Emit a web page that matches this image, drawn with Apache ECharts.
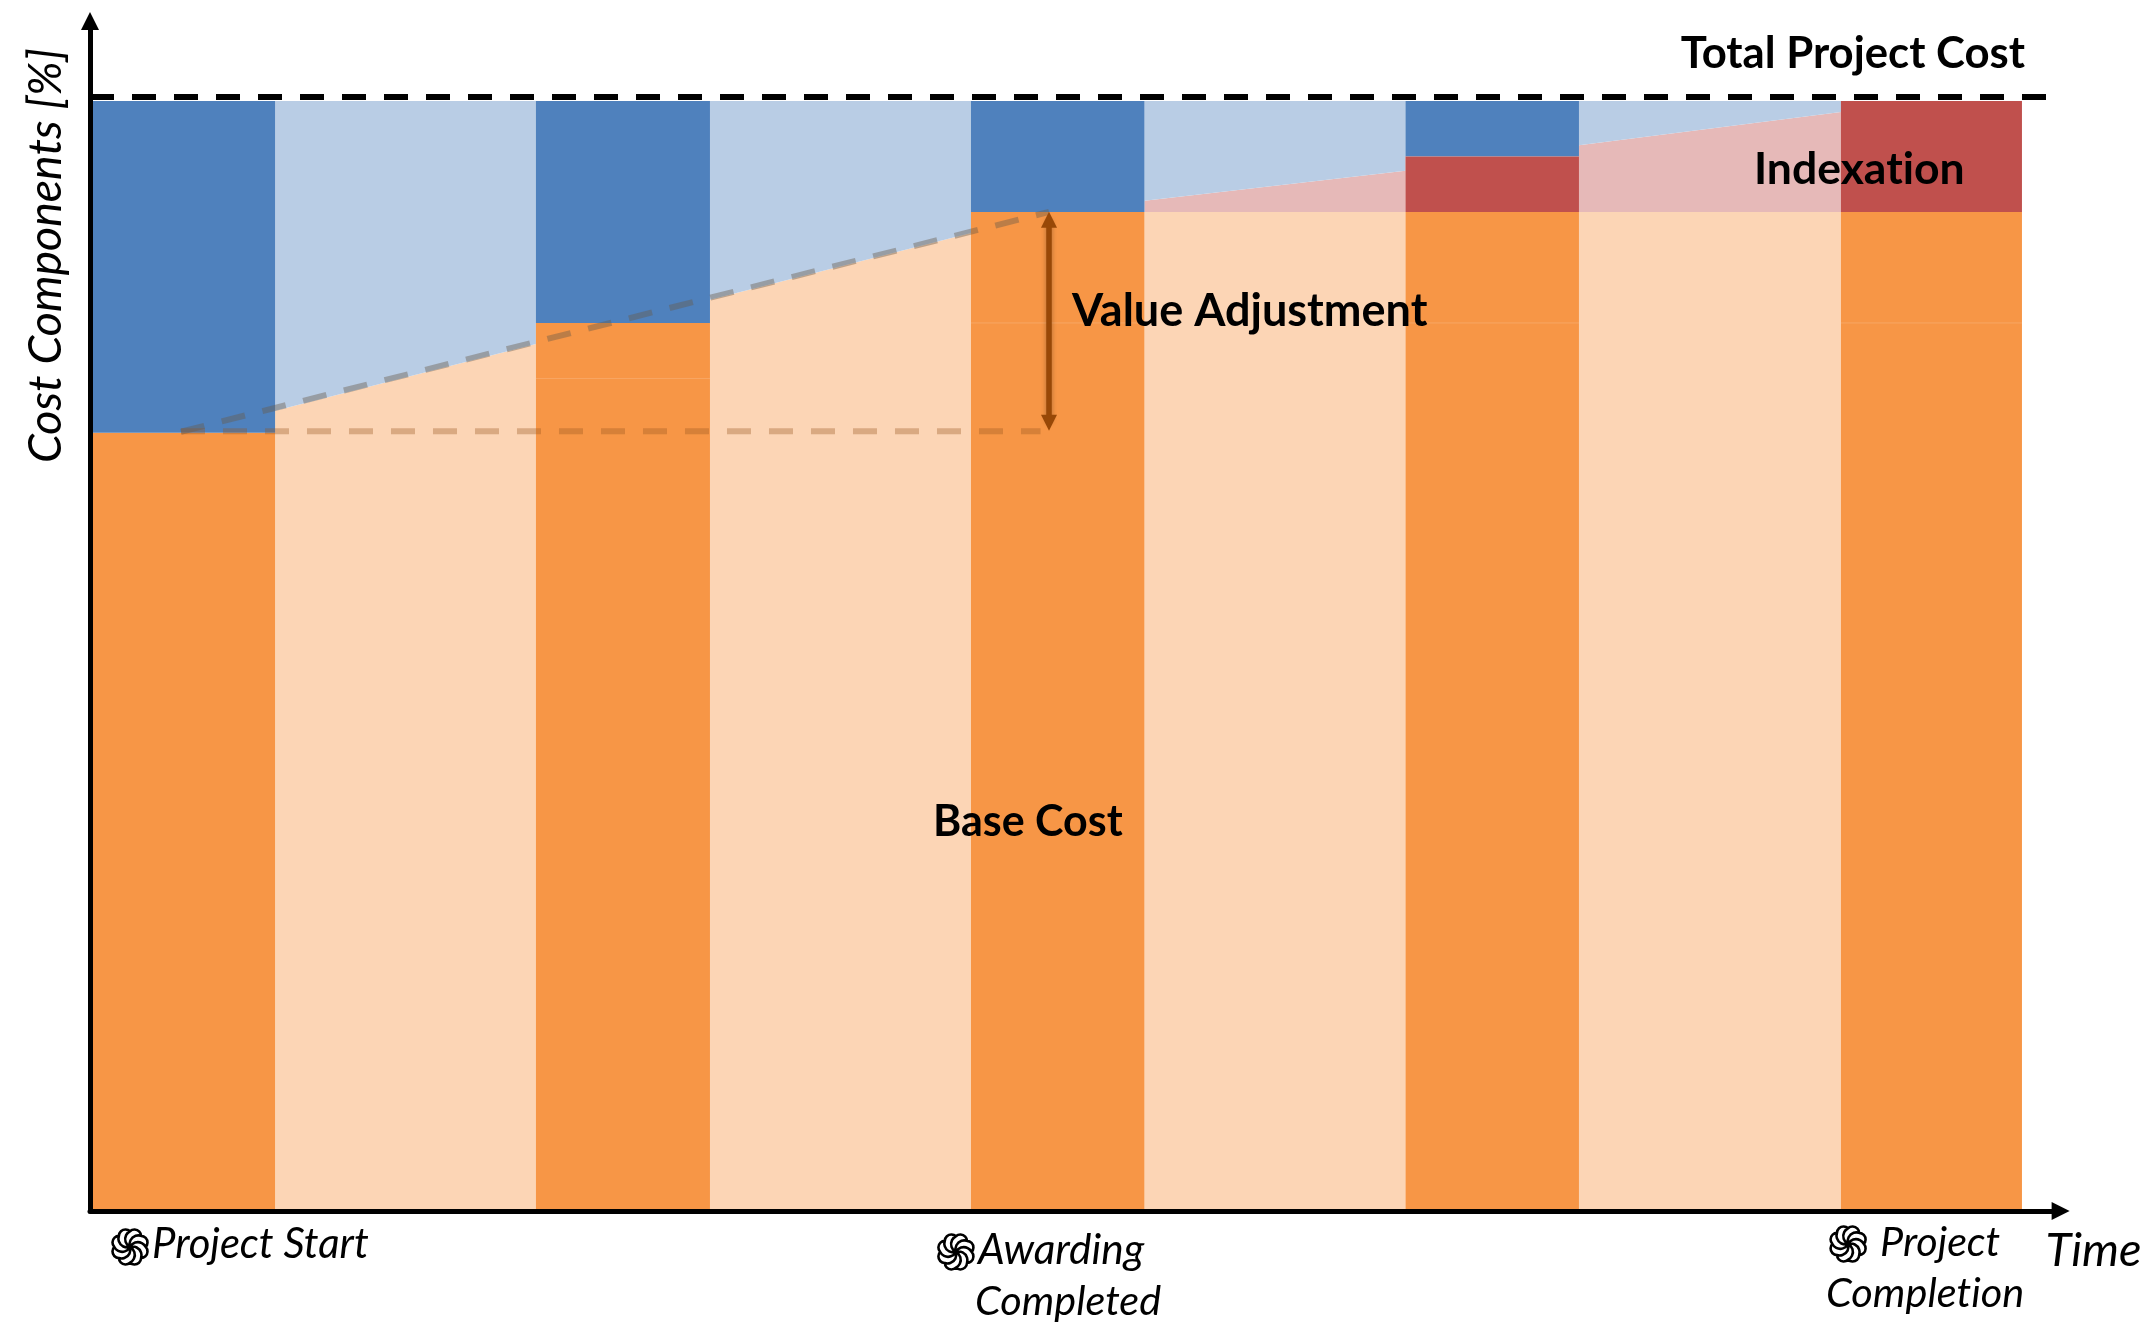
<!DOCTYPE html>
<html><head><meta charset="utf-8">
<style>html,body{margin:0;padding:0;background:#fff}#c{width:2150px;height:1322px}</style>
<script src="https://cdn.jsdelivr.net/npm/echarts@6/dist/echarts.min.js"></script>
</head><body><div id="c"></div>
<script>
// Time runs 0-100 between project start and completion; cost in percent.
const milestoneStart = [0, 23.08, 45.6, 68.09, 90.63];
const milestoneEnd = [9.58, 32.09, 54.58, 77.07, 100];
const baseCost = [70.1, 80, 90, 90, 90];
const indexation = [0, 0, 0, 5, 10];
const seamValue = [null, 75, 80, 80, 80];
const totalCost = 100;
const gapBaseLeft = [72.1, 82.1, 90, 90];
const gapBaseRight = [78.1, 88.1, 90, 90];
const gapIndexLeft = [72.1, 82.1, 91, 96];
const gapIndexRight = [78.1, 88.1, 93.7, 99];
const totalLineX = [0, 101.3];
const totalLineY = [100.35, 100.35];
const trendX = [4.71, 49.64];
const trendY = [70.2, 90];
const baselineX = [4.71, 49.2];
const baselineY = [70.25, 70.25];
const arrowX = 49.64;
const arrowY = [71, 89.3];
const eventX = [2.07, 44.82, 91.0];
const eventY = [-3.24, -3.69, -2.97];

const C = {blue:'#4F81BD', orange:'#F79646', red:'#C0504D', lblue:'#B9CDE5', lorange:'#FCD5B5', pink:'#E6B9B8'};
const FONT = 'Lato';

// avoid the Lato "ti" ligature, which the reference type does not have
const _fill = CanvasRenderingContext2D.prototype.fillText;
CanvasRenderingContext2D.prototype.fillText = function () { this.textRendering = 'optimizeSpeed'; return _fill.apply(this, arguments); };

function rect(api, x0, x1, y0, y1, fill) {
  const a = api.coord([x0, y1]), b = api.coord([x1, y0]);
  return {type:'rect', shape:{x:a[0], y:a[1], width:b[0]-a[0], height:b[1]-a[1]}, style:{fill}};
}
function poly(api, pts, fill) {
  return {type:'polygon', shape:{points:pts.map(p => api.coord(p))}, style:{fill}};
}
const barData = milestoneStart.map((s,i) => [s, milestoneEnd[i], baseCost[i], indexation[i], seamValue[i]]);
const gapData = gapBaseLeft.map((v,i) => [milestoneEnd[i], milestoneStart[i+1], v, gapBaseRight[i], gapIndexLeft[i], gapIndexRight[i]]);
const eventData = eventX.map((x,i) => [x, eventY[i]]);

function swirl(R, n) {
  let d = '';
  for (let i = 0; i < n; i++) {
    const t = i / n * 2 * Math.PI, t2 = (i + 1) / n * 2 * Math.PI;
    const px = R * Math.cos(t), py = R * Math.sin(t);
    const qx = R * Math.cos(t2), qy = R * Math.sin(t2);
    d += `M0 0A${R*0.56} ${R*0.56} 0 0 1 ${px.toFixed(2)} ${py.toFixed(2)}`;
    d += `A${R*0.42} ${R*0.42} 0 0 1 ${qx.toFixed(2)} ${qy.toFixed(2)}`;
  }
  return d;
}
function label(text, x, y, size, bold, italic, align) {
  return {type:'text', x, y, z:20, style:{text, fill:'#000', textAlign:align||'left', textVerticalAlign:'bottom',
    font:(italic?'italic ':'')+(bold?'bold ':'')+size+'px '+FONT}};
}

const option = {
  animation:false,
  backgroundColor:'#fff',
  grid:{left:90, top:21, width:1970.6, height:1190},
  xAxis:{type:'value', min:0, max:102, z:5,
    name:'Time', nameLocation:'end', nameGap:-15,
    nameTextStyle:{fontFamily:FONT, fontStyle:'italic', fontSize:47, color:'#000', align:'left', verticalAlign:'top', padding:[16,0,0,0]},
    axisLine:{show:true, onZero:false, symbol:['none','triangle'], symbolSize:[18,18], lineStyle:{color:'#000', width:5}},
    axisTick:{show:false}, axisLabel:{show:false}, splitLine:{show:false}},
  yAxis:{type:'value', min:0, max:107.2, z:5,
    name:'Cost Components [%]', nameLocation:'end', nameRotate:90, nameGap:-27,
    nameTextStyle:{fontFamily:FONT, fontStyle:'italic', fontSize:46.5, color:'#000', align:'right', verticalAlign:'bottom', padding:[0,0,21,0]},
    axisLine:{show:true, onZero:false, symbol:['none','triangle'], symbolSize:[18,18], lineStyle:{color:'#000', width:5}},
    axisTick:{show:false}, axisLabel:{show:false}, splitLine:{show:false}},
  series:[
    {type:'custom', name:'Transitions', coordinateSystem:'cartesian2d', z:2, data:gapData, silent:true,
      encode:{x:[0,1], y:[2,3]},
      renderItem:(p, api) => {
        const x0=api.value(0), x1=api.value(1), bl=api.value(2), br=api.value(3), il=api.value(4), ir=api.value(5);
        return {type:'group', children:[
          poly(api, [[x0,0],[x1,0],[x1,br],[x0,bl]], C.lorange),
          poly(api, [[x0,bl],[x1,br],[x1,ir],[x0,il]], C.pink),
          poly(api, [[x0,il],[x1,ir],[x1,totalCost],[x0,totalCost]], C.lblue)
        ]};
      }},
    {type:'custom', name:'Milestones', coordinateSystem:'cartesian2d', z:3, data:barData, silent:true,
      encode:{x:[0,1], y:2},
      renderItem:(p, api) => {
        const x0=api.value(0), x1=api.value(1), b=api.value(2), ix=api.value(3), seam=api.value(4);
        const kids=[
          rect(api,x0,x1,0,b,C.orange),
          rect(api,x0,x1,b+ix,totalCost,C.blue)
        ];
        if (ix>0) kids.push(rect(api,x0,x1,b,b+ix,C.red));
        if (seam===seam && seam!=null) {
          const a=api.coord([x0,seam]), c=api.coord([x1,seam]);
          kids.push({type:'line', shape:{x1:a[0],y1:a[1],x2:c[0],y2:c[1]}, style:{stroke:'rgba(255,255,255,0.16)', lineWidth:1}});
        }
        return {type:'group', children:kids};
      }},
    {type:'custom', name:'Events', coordinateSystem:'cartesian2d', z:6, data:eventData, silent:true, clip:false,
      encode:{x:0, y:1},
      renderItem:(p, api) => {
        const c=api.coord([api.value(0), api.value(1)]);
        return {type:'path', shape:{pathData:swirl(18,8), x:c[0]-17.5, y:c[1]-17.5, width:35, height:35, layout:'center'},
          style:{fill:'none', stroke:'#000', lineWidth:2.6}};
      }},
    {type:'line', name:'Total Project Cost', z:4, symbol:'none', silent:true, data:totalLineX.map((x,i)=>[x,totalLineY[i]]),
      lineStyle:{color:'#000', width:6, type:[24,18], dashOffset:0}},
    {type:'line', name:'Trend', z:4, symbol:'none', silent:true, data:trendX.map((x,i)=>[x,trendY[i]]),
      lineStyle:{color:'rgba(105,90,75,0.42)', width:6, type:[24,18]}},
    {type:'line', name:'Baseline', z:4, symbol:'none', silent:true, data:baselineX.map((x,i)=>[x,baselineY[i]]),
      lineStyle:{color:'rgba(150,85,30,0.34)', width:6, type:[24,18]},
      markLine:{silent:true, animation:false, symbol:['triangle','triangle'], symbolSize:16, label:{show:false},
        lineStyle:{color:'#984807', width:5.5, type:'solid', shadowBlur:5, shadowColor:'rgba(0,0,0,0.3)'},
        data:[[{coord:[arrowX,arrowY[0]]},{coord:[arrowX,arrowY[1]]}]]}}
  ],
  graphic:[
    label('Total Project Cost', 2025, 76, 43.7, true, false, 'right'),
    label('Indexation', 1754, 192, 44.5, true),
    label('Value Adjustment', 1072, 334, 45, true),
    label('Base Cost', 933, 844, 43, true),
    label('Project Start', 152, 1266, 41.8, false, true),
    label('Awarding', 978, 1271, 42.4, false, true),
    label('Completed', 975, 1322, 41.4, false, true),
    label('Project', 1880, 1263, 41.3, false, true),
    label('Completion', 1826, 1314, 41.5, false, true)
  ]
};
echarts.init(document.getElementById('c'), null, {renderer:'canvas'}).setOption(option);
</script></body></html>
